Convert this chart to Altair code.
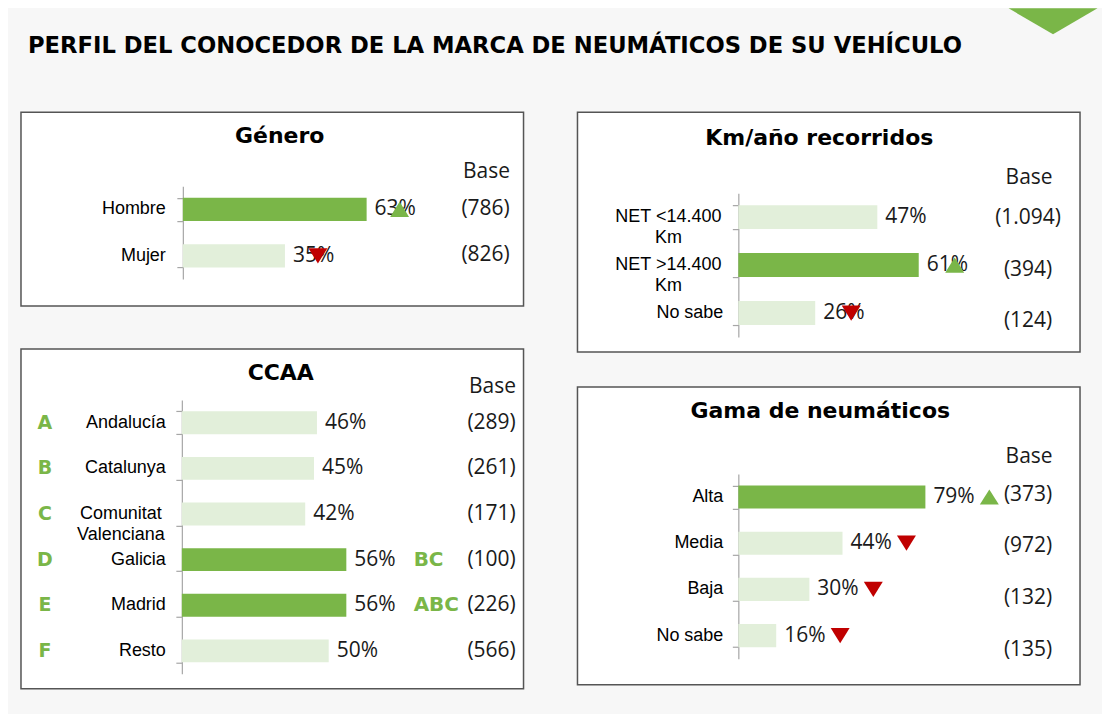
import altair as alt
import pandas as pd

TITLE = "PERFIL DEL CONOCEDOR DE LA MARCA DE NEUMÁTICOS DE SU VEHÍCULO"

GEN_TITLE = "Género"
GEN_CATS = ["Hombre", "Mujer"]
GEN_VALS = [63, 35]
GEN_ARROWS = ["up", "down"]
GEN_BASE = ["(786)", "(826)"]

KM_TITLE = "Km/año recorridos"
KM_CATS = ["NET <14.400\nKm", "NET >14.400\nKm", "No sabe"]
KM_VALS = [47, 61, 26]
KM_ARROWS = ["", "up", "down"]
KM_BASE = ["(1.094)", "(394)", "(124)"]

CCAA_TITLE = "CCAA"
CCAA_LETTERS = ["A", "B", "C", "D", "E", "F"]
CCAA_CATS = ["Andalucía", "Catalunya", "Comunitat\nValenciana", "Galicia", "Madrid", "Resto"]
CCAA_VALS = [46, 45, 42, 56, 56, 50]
CCAA_SIG = ["", "", "", "BC", "ABC", ""]
CCAA_ARROWS = ["", "", "", "", "", ""]
CCAA_BASE = ["(289)", "(261)", "(171)", "(100)", "(226)", "(566)"]

GAMA_TITLE = "Gama de neumáticos"
GAMA_CATS = ["Alta", "Media", "Baja", "No sabe"]
GAMA_VALS = [79, 44, 30, 16]
GAMA_ARROWS = ["up", "down", "down", "down"]
GAMA_BASE = ["(373)", "(972)", "(132)", "(135)"]

DARK = "#7ab648"
LIGHT = "#e2efda"
RED = "#c00000"
TXT = "#1a1a1a"
AXIS = "#a6a6a6"
UP = "M-1,0.8L1,0.8L0,-0.8Z"
DOWN = "M-1,-0.8L1,-0.8L0,0.8Z"
TRI = "M-1,-0.292L1,-0.292L0,0.292Z"


def make_df(cats, vals, arrows, bases, letters=None, sigs=None):
    n = len(cats)
    df = pd.DataFrame({
        "cat": cats, "val": vals, "arrow": arrows, "base": bases,
        "letter": letters if letters else [""] * n,
        "sig": sigs if sigs else [""] * n,
    })
    df["pct"] = df["val"].astype(str) + "%"
    df["tone"] = ["hi" if (a == "up" or s != "") else "lo" for a, s in zip(df["arrow"], df["sig"])]
    df["wrapped"] = df["cat"].str.contains("\n")
    return df


def panel(title, df, w, h, L):
    cats = list(df["cat"])
    xs = alt.Scale(domain=[0, 100], range=[L["ax"], L["x100"]], nice=False, zero=True)
    ys = alt.Scale(type="band", domain=cats, range=L["yr"], paddingInner=0.5, paddingOuter=0.25)
    X = alt.X("val:Q", scale=xs, axis=None)
    Y = alt.Y("cat:N", scale=ys, axis=None)
    base = alt.Chart(df)
    ppu = (L["x100"] - L["ax"]) / 100.0

    layers = []
    layers.append(base.mark_bar().encode(
        x=X,
        y=alt.Y("cat:N", scale=ys, axis=alt.Axis(
            labels=False, title=None, grid=False, domainColor=AXIS, tickColor=AXIS,
            tickSize=6, tickBand="extent", offset=-L["ax"], domainWidth=1.2, tickWidth=1.2)),
        color=alt.Color("tone:N", scale=alt.Scale(domain=["hi", "lo"], range=[DARK, LIGHT]), legend=None),
    ))
    layers.append(base.transform_filter("!datum.wrapped").mark_text(
        align="right", baseline="middle", font="Liberation Sans", fontSize=18, color="#000"
    ).encode(x=alt.value(L["lab"]), y=Y, text="cat:N"))
    layers.append(base.transform_filter("datum.wrapped").mark_text(
        align="center", baseline="middle", font="Liberation Sans", fontSize=18, color="#000",
        lineBreak="\n", lineHeight=21
    ).encode(x=alt.value(L["wcx"]), y=Y, text="cat:N"))
    layers.append(base.mark_text(
        align="left", baseline="middle", dx=8, font="Open Sans", fontSize=21, color=TXT
    ).encode(x=X, y=Y, text="pct:N"))
    for kind, shape, col in (("up", UP, DARK), ("down", DOWN, RED)):
        layers.append(base.transform_filter(f"datum.arrow == '{kind}'").transform_calculate(
            ax=f"datum.val + {L['adx'] / ppu}"
        ).mark_point(shape=shape, filled=True, size=361, color=col, opacity=1, strokeWidth=0).encode(
            x=alt.X("ax:Q", scale=xs, axis=None), y=Y))
    if "letx" in L:
        layers.append(base.mark_text(
            align="center", baseline="middle", font="DejaVu Sans", fontWeight="bold", fontSize=19, color=DARK
        ).encode(x=alt.value(L["letx"]), y=Y, text="letter:N"))
        layers.append(base.mark_text(
            align="left", baseline="middle", font="DejaVu Sans", fontWeight="bold", fontSize=20, color=DARK
        ).encode(x=alt.value(L["sigx"]), y=Y, text="sig:N"))
    layers.append(base.mark_text(
        align="center", baseline="middle", font="Open Sans", fontSize=21, color=TXT
    ).encode(x=alt.value(L["bx"]),
             y=alt.Y("cat:N", scale=alt.Scale(type="point", domain=cats, range=L["br"], padding=0), axis=None),
             text="base:N"))
    layers.append(alt.Chart(pd.DataFrame({"t": [title]})).mark_text(
        align="center", baseline="middle", font="DejaVu Sans", fontWeight="bold", fontSize=22, color="#000"
    ).encode(x=alt.value(L["tx"]), y=alt.value(L["ty"]), text="t:N"))
    layers.append(alt.Chart(pd.DataFrame({"t": ["Base"]})).mark_text(
        align="center", baseline="middle", font="Open Sans", fontSize=21, color=TXT
    ).encode(x=alt.value(L["bx"] + 1), y=alt.value(L["bty"]), text="t:N"))

    return alt.layer(*layers).resolve_scale(y="independent").properties(
        width=w, height=h,
        view=alt.ViewBackground(fill="white", stroke="#555555", strokeWidth=1.5),
    )


gen = panel(GEN_TITLE, make_df(GEN_CATS, GEN_VALS, GEN_ARROWS, GEN_BASE), 503, 194,
            dict(ax=162, x100=454, yr=[74, 167], lab=145, wcx=100, adx=33, bx=465, br=[97, 143],
                 tx=259, ty=24, bty=60))
ccaa = panel(CCAA_TITLE, make_df(CCAA_CATS, CCAA_VALS, CCAA_ARROWS, CCAA_BASE, CCAA_LETTERS, CCAA_SIG), 503, 340,
             dict(ax=161, x100=455, yr=[51, 325], lab=145, wcx=100, adx=40, bx=471, br=[74, 302],
                  tx=260, ty=24, bty=38, letx=24, sigx=393))
km = panel(KM_TITLE, make_df(KM_CATS, KM_VALS, KM_ARROWS, KM_BASE), 503, 240,
           dict(ax=161, x100=457, yr=[81, 225], lab=146, wcx=91, adx=36, bx=451, br=[106, 209],
                tx=242, ty=26, bty=66))
gama = panel(GAMA_TITLE, make_df(GAMA_CATS, GAMA_VALS, GAMA_ARROWS, GAMA_BASE), 503, 298,
             dict(ax=161, x100=398, yr=[87, 272], lab=146, wcx=91, adx=64, bx=451, br=[108, 263],
                  tx=243, ty=24, bty=70))

title_chart = alt.layer(
    alt.Chart(pd.DataFrame({"t": [TITLE]})).mark_text(
        align="left", baseline="alphabetic", font="DejaVu Sans", fontWeight="bold", fontSize=22.7, color="#000"
    ).encode(x=alt.value(7), y=alt.value(45), text="t:N"),
    alt.Chart(pd.DataFrame({"t": [""]})).mark_point(
        shape=TRI, filled=True, size=89 * 89, color=DARK, opacity=1, strokeWidth=0
    ).encode(x=alt.value(1033), y=alt.value(13)),
).properties(width=1082, height=103)

left = alt.vconcat(gen, ccaa, spacing=43, bounds="flush")
right = alt.vconcat(km, gama, spacing=35, bounds="flush")

chart = alt.vconcat(
    title_chart,
    alt.hconcat(left, right, spacing=52),
    spacing=0,
).properties(
    padding={"left": 12, "top": 0, "right": 0, "bottom": 24}
).configure(background="#f7f7f7").configure_view(strokeWidth=0)

chart.save("out.html", embed_options={"renderer": "svg", "actions": False})
